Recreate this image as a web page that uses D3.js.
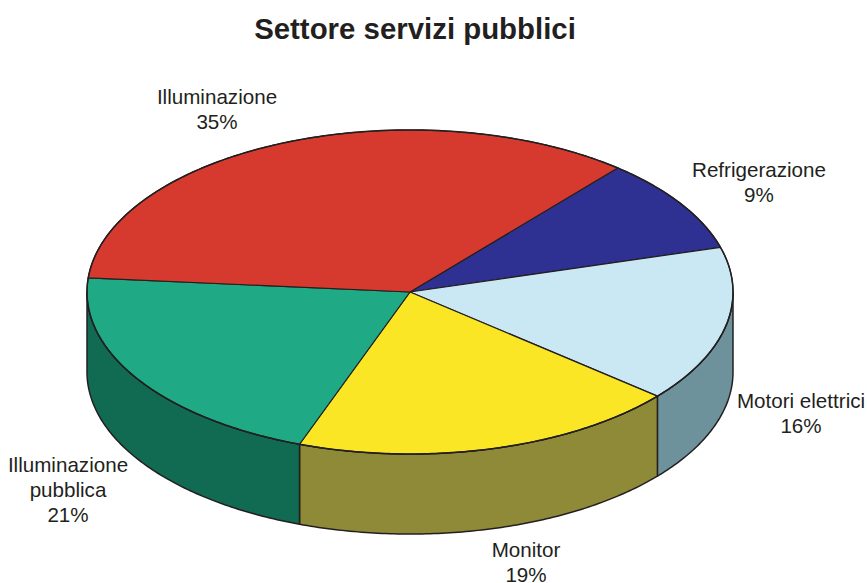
<!DOCTYPE html>
<html><head><meta charset="utf-8">
<script src="https://cdn.jsdelivr.net/npm/d3@7"></script>
<style>html,body{margin:0;padding:0;background:#fff}svg{display:block}text{font-family:"Liberation Sans",Arial,sans-serif;fill:#231f20}</style>
</head><body><div id="c"></div>
<script>
const categories=["Refrigerazione","Motori elettrici","Monitor","Illuminazione pubblica","Illuminazione"];
const values=[9.44,15.56,19.44,20.83,34.72];
const topColors=["#2e3192","#c9e8f4","#fbe625","#1fa985","#d63a2f"];
const sideColors=["#1c1e5a","#6e929b","#8f8a38","#106b52","#8a2620"];
const labelLines=[["Refrigerazione","9%"],["Motori elettrici","16%"],["Monitor","19%"],["Illuminazione","pubblica","21%"],["Illuminazione","35%"]];
const labelPos=[[759,170],[801,401],[526,550],[68,465],[217,97]];
const title="Settore servizi pubblici";
const W=867,H=583,cx=410,cy=292,rx=323,ry=162,depth=80,start=40*Math.PI/180;
const svg=d3.select("#c").append("svg").attr("width",W).attr("height",H);
const arcs=d3.pie().sort(null).startAngle(start).endAngle(start+2*Math.PI)(values);
const X=d3.scaleLinear().domain([-1,1]).range([cx-rx,cx+rx]);
const Y=d3.scaleLinear().domain([-1,1]).range([cy-ry,cy+ry]);
const line=d3.line();
const pt=(a,dz=0)=>[X(Math.sin(a)),Y(-Math.cos(a))+dz];
function samples(a0,a1){const n=Math.max(2,Math.ceil((a1-a0)*80));return d3.range(n+1).map(i=>a0+(a1-a0)*i/n);}
const stroke="#231f20",sw=1.2;
const g=svg.append("g");
arcs.forEach((d,i)=>{
  for(const k of [0,1]){
    const lo=Math.max(d.startAngle,Math.PI/2+k*2*Math.PI),hi=Math.min(d.endAngle,3*Math.PI/2+k*2*Math.PI);
    if(hi<=lo)continue;
    const s=samples(lo,hi);
    const pts=s.map(a=>pt(a)).concat(s.slice().reverse().map(a=>pt(a,depth)));
    g.append("path").attr("d",line(pts)+"Z").attr("fill",sideColors[i]).attr("stroke",stroke).attr("stroke-width",1.5).attr("stroke-linejoin","round");
  }
});
arcs.forEach((d,i)=>{
  const pts=[[cx,cy]].concat(samples(d.startAngle,d.endAngle).map(a=>pt(a)));
  g.append("path").attr("d",line(pts)+"Z").attr("fill",topColors[i]).attr("stroke",stroke).attr("stroke-width",sw).attr("stroke-linejoin","round");
});
g.append("path").attr("d",line(samples(0,2*Math.PI).map(a=>pt(a)))+"Z").attr("fill","none").attr("stroke",stroke).attr("stroke-width",1.5);
svg.append("text").attr("x",415).attr("y",39).attr("text-anchor","middle").attr("font-size",29.4).attr("font-weight","bold").text(title);
labelLines.forEach((ls,i)=>{
  const t=svg.append("text").attr("text-anchor","middle").attr("font-size",20.6);
  ls.forEach((l,j)=>t.append("tspan").attr("x",labelPos[i][0]).attr("y",labelPos[i][1]+j*25+7).text(l));
});
</script></body></html>
